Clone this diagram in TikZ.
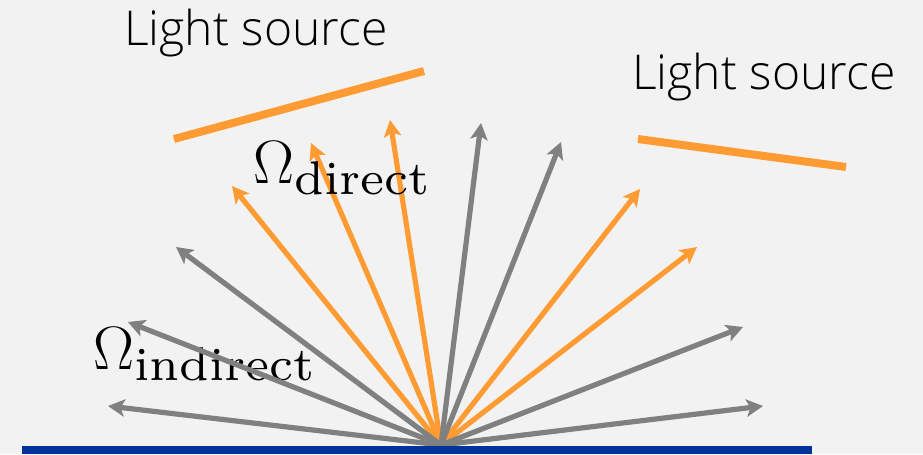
\RequirePackage{fix-cm}
\documentclass[tikz,border=0pt]{standalone}
\usepackage[no-math]{fontspec}
\setmainfont{Open Sans Light}
\newfontfamily\subfont{lmroman7-regular.otf}
\usetikzlibrary{arrows.meta}
\definecolor{bg}{RGB}{242,242,242}
\definecolor{ray}{RGB}{128,128,128}
\definecolor{lit}{RGB}{255,155,51}
\definecolor{floor}{RGB}{0,51,153}
\newcommand{\solidsub}[1]{\mbox{\subfont\fontsize{35.5}{40}\selectfont #1}}
\tikzset{
  raybase/.style={line width=3.9pt, -{Stealth[length=12.5pt,width=13pt,inset=3pt]}},
  grayray/.style={raybase, draw=ray},
  litray/.style={raybase, draw=lit},
  source/.style={draw=lit, line width=6pt},
  caption/.style={inner sep=0pt, anchor=base west, font=\fontsize{36}{42}\selectfont},
  omega/.style={inner sep=0pt, anchor=base west, font=\fontsize{46}{50}\selectfont}
}
\begin{document}
\begin{tikzpicture}[x=0.75pt,y=-0.75pt]
  % canvas
  \fill[bg] (0,0) rectangle (923,454);
  \useasboundingbox (0,0) rectangle (923,454);

  % the two emitters
  \coordinate (s1a) at (174,139);
  \coordinate (s1b) at (424,71);
  \coordinate (s2a) at (638,139);
  \coordinate (s2b) at (846,167);
  \draw[source] (s1a) -- (s1b);
  \draw[source] (s2a) -- (s2b);

  % common origin of all rays
  \coordinate (o) at (441,445);

  % rays that hit an emitter
  \foreach \n/\p in {d1/{232,186}, d2/{311,143}, d3/{390,120},
                     d4/{640,189}, d5/{697,247}} {
    \coordinate (\n) at (\p);
    \draw[litray] (o) -- (\n);
  }

  % labels
  \node[caption] (ls1) at (124,45) {Light source};
  \node[caption] (ls2) at (632,89) {Light source};
  \node[omega] (odir) at (253,183) {$\Omega_{\solidsub{direct}}$};
  \node[omega] (oind) at (93,369) {$\Omega_{\solidsub{indirect}}$};

  % rays that miss the emitters
  \foreach \n/\p in {g1/{108,406}, g2/{128,322}, g3/{176,247}, g4/{481,123},
                     g5/{561,142}, g6/{743,327}, g7/{763,406}} {
    \coordinate (\n) at (\p);
    \draw[grayray] (o) -- (\n);
  }

  % surface
  \fill[floor] (22,446) rectangle (812,454);
\end{tikzpicture}
\end{document}
